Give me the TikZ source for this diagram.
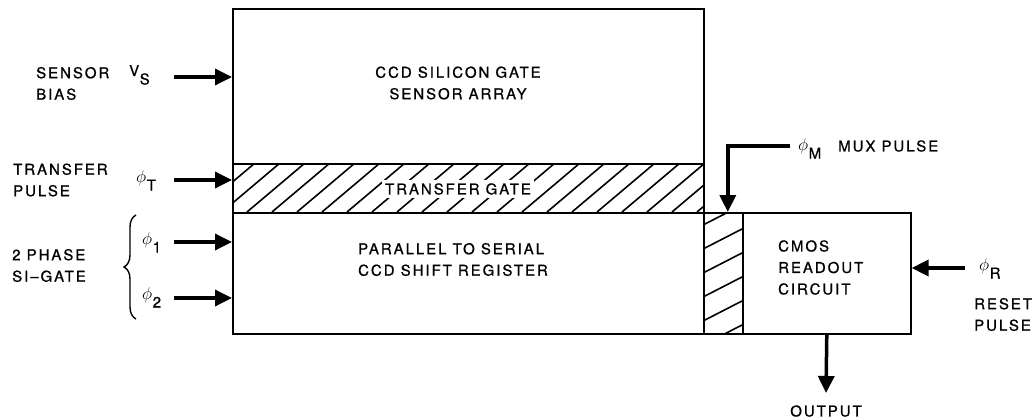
\documentclass[tikz,border=0pt]{standalone}
\usepackage{fontspec}
\setmainfont[LetterSpace=13, FakeBold=0.8]{TeX Gyre Heros}
\usetikzlibrary{arrows.meta,decorations.pathreplacing}
\newcommand\sig[2]{#1\kern0.5pt\raisebox{-8.5pt}{#2}}
\newcommand\ph{\scalebox{1.2}{$\phi$}}

\begin{document}
\begin{tikzpicture}[x=1pt, y=-1pt,
      every node/.style={font=\fontsize{15pt}{21.5pt}\selectfont, inner sep=0pt},
      blk/.style={draw, line width=1.6pt, anchor=north west},
      txt/.style={align=left, anchor=west},
      sigl/.style={anchor=base west},
      hatch/.style={line width=1.6pt},
      arr/.style={-{Triangle[length=17pt,width=16pt]}, line width=3.5pt},
      brc/.style={decorate, decoration={brace, amplitude=12pt}, line width=1.4pt}]
    \useasboundingbox (0,0) rectangle (1034,420);
    \node[blk, minimum width=471pt, minimum height=155pt] (sa) at (232,8)   {};
    \node[blk, minimum width=471pt, minimum height=49pt]  (tg) at (232,163) {};
    \node[blk, minimum width=471pt, minimum height=121pt] (sr) at (232,212) {};
    \node[blk, minimum width=39pt,  minimum height=121pt] (mx) at (703,212) {};
    \node[blk, minimum width=168pt, minimum height=121pt] (cm) at (742,212) {};
    \begin{scope}
      \clip (tg.south west) rectangle (tg.north east);
      \foreach \i in {0,...,21} \draw[hatch] (172+25*\i,212) -- ++(58,-49);
    \end{scope}
    \begin{scope}
      \clip (mx.south west) rectangle (mx.north east);
      \foreach \i in {0,...,6} \draw[hatch] (703,201+24*\i) -- ++(39,-20);
    \end{scope}
    \node[align=center] (sat) at (458,83) {CCD SILICON GATE\\SENSOR ARRAY};
    \node[fill=white, inner sep=3pt] (tgt) at (458,189) {TRANSFER GATE};
    \node[align=left] (srt) at (453,259.5) {PARALLEL TO SERIAL\\CCD SHIFT REGISTER};
    \node[txt] (cmt) at (778,267.5) {CMOS\\READOUT\\CIRCUIT};
    \node[txt] (sb) at (36,83.5)  {SENSOR\\BIAS};
    \node[txt] (tp) at (13,180)   {TRANSFER\\PULSE};
    \node[txt] (ph) at (12,265.5) {2 PHASE\\SI--GATE};
    \node[txt] (rp) at (974,314.5) {RESET\\PULSE};
    \node[txt] (mp) at (838,146)  {MUX PULSE};
    \node (op) at (826,411) {OUTPUT};
    \node[sigl] (vs) at (129,76)  {\sig{V}{S}};
    \node[sigl] (ft) at (136,182) {\sig{\ph}{T}};
    \node[sigl] (f1) at (142,244) {\sig{\ph}{1}};
    \node[sigl] (f2) at (142,299) {\sig{\ph}{2}};
    \node[sigl] (fm) at (798,150) {\sig{\ph}{M}};
    \node[sigl] (fr) at (979,270) {\sig{\ph}{R}};
    \draw[brc] (136,319) -- (136,215);
    \coordinate (vs0) at (174,77);
    \coordinate (ft0) at (174,180);
    \coordinate (f10) at (174,242);
    \coordinate (f20) at (174,298);
    \coordinate (fm0) at (790,146);
    \coordinate (fr0) at (965,268);
    \coordinate (op0) at (826,393);
    \draw[arr] (vs0) -- (vs0 -| sa.west);
    \draw[arr] (ft0) -- (ft0 -| tg.west);
    \draw[arr] (f10) -- (f10 -| sr.west);
    \draw[arr] (f20) -- (f20 -| sr.west);
    \draw[arr] (fm0) -| ([xshift=4.5pt]mx.north);
    \draw[arr] (fr0) -- (fr0 -| cm.east);
    \draw[arr] (cm.south) -- (op0);
  \end{tikzpicture}
\end{document}
